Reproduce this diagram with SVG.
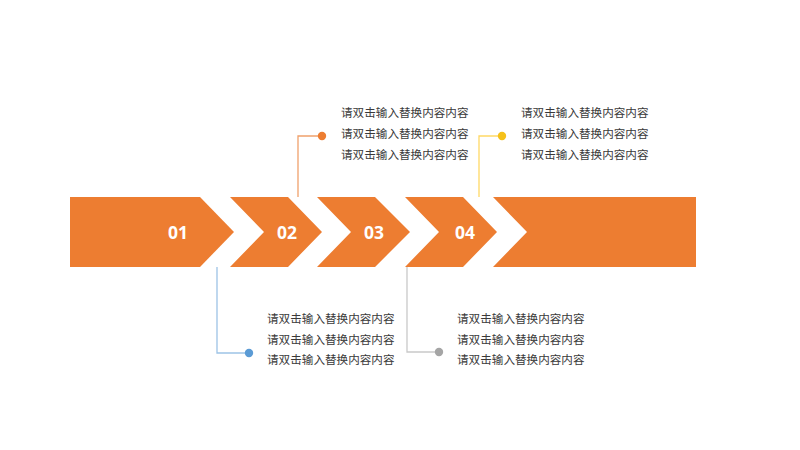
<svg xmlns="http://www.w3.org/2000/svg" width="800" height="450" viewBox="0 0 800 450">
<style>
.seg{fill:#ED7D31}
.num{font-family:"Noto Sans","Open Sans",sans-serif;font-weight:bold;font-size:17.5px;fill:#FFFFFF;text-anchor:middle}
.txt{font-family:"Noto Sans CJK SC",sans-serif;font-size:11.6px;fill:#3A3A3A}
.ln{fill:none;stroke-width:1.3}
</style>
<rect width="800" height="450" fill="#FFFFFF"/>
<g id="connectors">
<polyline class="ln" points="298,197 298,136 322,136" stroke="#F0A16C"/>
<circle cx="322" cy="136" r="4.2" fill="#ED7D31"/>
<polyline class="ln" points="479,197 479,136 502,136" stroke="#FFD966"/>
<circle cx="502" cy="136" r="4.2" fill="#F5C11A"/>
<polyline class="ln" points="217,267 217,353 249,353" stroke="#9DC3E6"/>
<circle cx="249" cy="353" r="4.2" fill="#5B9BD5"/>
<polyline class="ln" points="407,267 407,352 439,352" stroke="#C9C9C9"/>
<circle cx="439" cy="352" r="4.2" fill="#A5A5A5"/>
</g>
<g id="step1">
<polygon class="seg" points="70,197 200,197 234,232 200,267 70,267"/>
<text class="num" x="178" y="238.5">01</text>
</g>
<g id="step2">
<polygon class="seg" points="230,197 288,197 322,232 288,267 230,267 264,232"/>
<text class="num" x="287" y="238.5">02</text>
</g>
<g id="step3">
<polygon class="seg" points="317,197 375,197 410,232 375,267 317,267 351,232"/>
<text class="num" x="374" y="238.5">03</text>
</g>
<g id="step4">
<polygon class="seg" points="405,197 463,197 497,232 463,267 405,267 439,232"/>
<text class="num" x="465" y="238.5">04</text>
</g>
<g id="tail">
<polygon class="seg" points="493,197 696,197 696,267 493,267 527,232"/>
</g>
<g id="text2">
<text class="txt" x="341" y="117">请双击输入替换内容内容</text>
<text class="txt" x="341" y="138">请双击输入替换内容内容</text>
<text class="txt" x="341" y="159">请双击输入替换内容内容</text>
</g>
<g id="text4">
<text class="txt" x="521" y="117">请双击输入替换内容内容</text>
<text class="txt" x="521" y="138">请双击输入替换内容内容</text>
<text class="txt" x="521" y="159">请双击输入替换内容内容</text>
</g>
<g id="text1">
<text class="txt" x="267" y="323">请双击输入替换内容内容</text>
<text class="txt" x="267" y="344">请双击输入替换内容内容</text>
<text class="txt" x="267" y="364">请双击输入替换内容内容</text>
</g>
<g id="text3">
<text class="txt" x="457" y="323">请双击输入替换内容内容</text>
<text class="txt" x="457" y="344">请双击输入替换内容内容</text>
<text class="txt" x="457" y="364">请双击输入替换内容内容</text>
</g>
</svg>
